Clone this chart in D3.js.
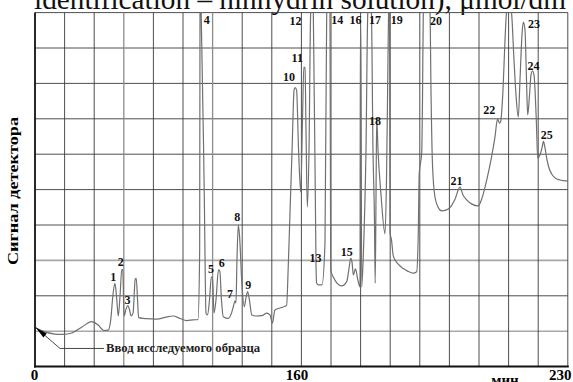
<!DOCTYPE html>
<html>
<head>
<meta charset="utf-8">
<script src="https://cdn.jsdelivr.net/npm/d3@7"></script>
<style>
  html, body { margin: 0; padding: 0; background: #fff; }
  svg { display: block; }
  text { font-family: "Liberation Serif", "Times New Roman", serif; }
</style>
</head>
<body>
<svg id="chart" width="573" height="382"></svg>
<script>
// Chromatogram: retention time (min) vs detector signal (relative units)
const xTicks = [0, 160, 230];
const xBreaks = [0, 160, 230];

const timeMin = [
  0, 6.0, 12.0, 16.8, 22.2, 28.2, 34.1, 37.8, 41.4, 44.0,
  45.6, 46.8, 48.0, 48.9, 50.0, 51.1, 52.1, 52.7, 53.5, 54.7,
  55.7, 56.8, 57.7, 58.9, 60.2, 60.8, 61.6, 62.2, 64.9, 69.1,
  73.3, 78.1, 82.9, 87.1, 91.1, 94.9, 97.9, 98.9, 99.1, 99.5,
  99.8, 101.7, 102.7, 103.6, 104.8, 105.9, 106.6, 107.5, 108.7, 110.2,
  111.0, 112.0, 113.1, 116.1, 118.0, 119.1, 120.1, 120.7, 121.3, 122.1,
  122.8, 124.3, 125.7, 126.7, 127.7, 128.8, 130.2, 132.7, 136.2, 139.2,
  141.1, 142.6, 144.1, 148.2, 151.1, 152.1, 153.2, 154.4, 155.6, 156.2,
  157.1, 158.3, 159.6,
  160.29, 160.63, 160.95, 161.21, 161.55, 162.00, 162.44, 162.79, 163.13, 163.84,
  163.97, 164.44, 165.41, 166.20, 166.65, 167.07, 167.51, 167.70, 168.38, 169.35,
  170.59, 171.90, 172.64, 172.95, 173.30, 173.64, 174.22, 174.74, 175.40, 175.50,
  175.63, 175.84, 176.32, 176.97, 177.45, 177.92, 178.39, 178.81, 179.21, 179.39,
  179.60, 179.79, 180.13, 180.92, 181.97, 182.36, 182.75, 182.91, 183.04, 183.17,
  183.28, 183.67, 184.15, 185.38, 186.78, 188.01, 189.40, 190.29, 190.71, 190.97,
  191.61, 191.82, 192.03, 192.87, 193.79, 194.05, 194.45, 195.10, 195.89, 196.86,
  197.99, 199.04, 200.36, 201.67, 202.46, 203.43, 204.83, 206.48, 207.46, 208.69,
  209.82, 210.87, 211.53, 212.05, 212.32, 212.97, 213.50, 213.89, 214.55, 215.21,
  215.86, 216.39, 216.99, 217.44, 217.96, 218.31, 218.75, 219.15, 219.46, 219.94,
  220.33, 220.72, 221.12, 221.51, 221.77, 222.09, 222.69, 223.22, 223.61, 224.01,
  224.45, 225.06, 225.77, 226.64, 227.95, 230.0
];

const signal = [
  1.10, 0.98, 0.92, 0.91, 0.95, 1.12, 1.27, 1.18, 1.02, 1.03,
  1.37, 2.02, 2.35, 2.02, 1.43, 2.02, 2.74, 2.74, 1.43, 1.63,
  1.72, 1.60, 1.43, 1.51, 2.47, 2.49, 1.88, 1.39, 1.36, 1.35,
  1.34, 1.39, 1.43, 1.36, 1.30, 1.32, 1.33, 3.29, 10.0, 10.3,
  10.0, 4.71, 1.51, 1.46, 1.88, 2.53, 2.53, 1.51, 1.88, 2.73,
  2.70, 1.88, 1.41, 1.36, 1.51, 1.69, 1.85, 1.80, 3.01, 4.00,
  3.72, 2.31, 1.69, 1.94, 2.12, 1.88, 1.46, 1.43, 1.44, 1.51,
  1.46, 1.23, 1.60, 1.67, 1.73, 2.82, 4.42, 6.12, 7.81, 7.88,
  7.81, 6.12, 4.93,
  6.97, 8.46, 8.44, 6.68, 4.51, 6.12, 10.0, 10.3, 10.0, 2.87,
  2.36, 2.31, 2.31, 3.49, 10.0, 10.3, 10.0, 2.73, 2.53, 2.36,
  2.28, 2.40, 2.87, 3.06, 2.95, 2.59, 2.76, 2.50, 2.25, 9.65,
  9.65, 2.25, 3.29, 6.12, 10.0, 10.3, 10.0, 6.12, 4.08, 2.36,
  4.71, 7.02, 6.12, 4.85, 3.75, 5.27, 8.66, 10.0, 10.3, 10.0,
  3.80, 3.58, 3.12, 2.90, 2.77, 2.69, 2.64, 2.68, 3.77, 5.47,
  6.03, 7.53, 10.0, 10.3, 10.0, 7.81, 5.69, 4.79, 4.51, 4.40,
  4.42, 4.49, 4.73, 5.07, 4.85, 4.71, 4.59, 4.54, 4.76, 5.27,
  5.84, 6.49, 6.99, 6.88, 6.91, 7.81, 9.23, 10.0, 10.3, 10.0,
  8.66, 7.67, 7.05, 8.10, 9.37, 9.73, 9.51, 8.10, 7.11, 7.67,
  8.24, 8.35, 8.24, 7.53, 6.82, 5.89, 5.98, 6.18, 6.36, 6.18,
  5.89, 5.61, 5.44, 5.33, 5.27, 5.24
];

// peak numbers and where each number sits (time, signal level)
const peakNames = ["1","2","3","4","5","6","7","8","9","10","11","12","13",
  "14","15","16","17","18","19","20","21","22","23","24","25"];
const peakLabelTime = [47.0, 51.5, 55.6, 103.1, 105.7, 112.1, 117.1, 121.5, 128.1,
  152.6, 157.5, 156.5, 163.70, 169.43, 171.90, 174.22, 179.34, 179.34, 185.04,
  195.37, 200.75, 209.37, 221.12, 220.99, 224.45];
const peakLabelLevel = [2.54, 2.96, 1.90, 9.79, 2.75, 2.92, 2.07, 4.22, 2.31,
  8.19, 8.71, 9.77, 3.06, 9.79, 3.23, 9.79, 9.79, 6.95, 9.79,
  9.77, 5.24, 7.25, 9.68, 8.50, 6.54];

const injectionText = "Ввод исследуемого образца";
const yTitle = "Сигнал детектора";
const xUnit = "мин";
const topCaption = "identification – ninhydrin solution), μmol/dm";

// ---- layout ----
const plotLeft = 35, plotRight = 567.8, plotTop = 12.6, plotBottom = 366.6;
const yMax = 10, columns = 18;
const serif = "Liberation Serif, Times New Roman, serif";

const svg = d3.select("#chart");
svg.append("rect").attr("width", 573).attr("height", 382).attr("fill", "#fff");

const x = d3.scaleLinear().domain(xBreaks).range([plotLeft, (plotLeft + plotRight) / 2, plotRight]);
const y = d3.scaleLinear().domain([0, yMax]).range([plotBottom, plotTop]);
const col = d3.scaleLinear().domain([0, columns]).range([plotLeft, plotRight]);

// caption line running above the chart
svg.append("text")
  .attr("x", 34).attr("y", 9)
  .attr("font-family", serif)
  .attr("font-size", 30)
  .attr("textLength", 532).attr("lengthAdjust", "spacingAndGlyphs")
  .attr("fill", "#111")
  .text(topCaption);

// grid
const lightRows = new Set([1, 3]);
const lightCols = new Set([3, 6]);
const grid = svg.append("g");
grid.selectAll("line.h").data(d3.range(1, yMax + 1)).join("line")
  .attr("x1", plotLeft).attr("x2", plotRight)
  .attr("y1", d => y(d)).attr("y2", d => y(d))
  .attr("stroke", d => lightRows.has(d) ? "#a8a8a8" : "#3a3a3a")
  .attr("stroke-width", d => lightRows.has(d) ? 1.6 : 0.9);
grid.selectAll("line.v").data(d3.range(1, columns + 1)).join("line")
  .attr("y1", plotTop).attr("y2", plotBottom)
  .attr("x1", d => col(d)).attr("x2", d => col(d))
  .attr("stroke", d => lightCols.has(d) ? "#8c8c8c" : "#3a3a3a")
  .attr("stroke-width", d => lightCols.has(d) ? 1.3 : 0.9);

// signal trace
svg.append("clipPath").attr("id", "plotClip")
  .append("rect").attr("x", plotLeft).attr("y", plotTop)
  .attr("width", plotRight - plotLeft).attr("height", plotBottom - plotTop);

const pts = timeMin.map((t, i) => [t, signal[i]]);
svg.append("path")
  .datum(pts)
  .attr("clip-path", "url(#plotClip)")
  .attr("fill", "none")
  .attr("stroke", "#707070")
  .attr("stroke-width", 1.2)
  .attr("stroke-linejoin", "round")
  .attr("d", d3.line().x(d => x(d[0])).y(d => y(d[1])).curve(d3.curveMonotoneX));

// axes frame
svg.append("line").attr("x1", plotLeft).attr("x2", plotLeft).attr("y1", plotTop).attr("y2", plotBottom + 1)
  .attr("stroke", "#111").attr("stroke-width", 1.8);
svg.append("line").attr("x1", plotLeft - 1).attr("x2", plotRight + 1).attr("y1", plotBottom).attr("y2", plotBottom)
  .attr("stroke", "#111").attr("stroke-width", 2);

// x tick labels
const tickNudge = { 0: -1, 160: -5, 230: -8 };
const xAxis = d3.axisBottom(x).tickValues(xTicks).tickSize(0).tickPadding(0).tickFormat(d3.format("d"));
const gx = svg.append("g").attr("transform", `translate(0,${plotBottom})`).call(xAxis);
gx.select(".domain").remove();
gx.selectAll("text")
  .attr("y", 13).attr("dy", 0)
  .attr("dx", d => tickNudge[d])
  .attr("font-family", serif)
  .attr("font-size", 15).attr("font-weight", "bold").attr("fill", "#000");

svg.append("text")
  .attr("x", 505).attr("y", 384.5)
  .attr("text-anchor", "middle")
  .attr("font-family", serif)
  .attr("font-size", 15).attr("font-weight", "bold")
  .text(xUnit);

// y title
svg.append("text")
  .attr("transform", "translate(18,191) rotate(-90)")
  .attr("text-anchor", "middle")
  .attr("font-family", serif)
  .attr("font-size", 14).attr("font-weight", "bold")
  .attr("textLength", 148).attr("lengthAdjust", "spacingAndGlyphs")
  .text(yTitle);

// peak numbers
svg.append("g").selectAll("text").data(peakNames).join("text")
  .attr("x", (d, i) => x(peakLabelTime[i]))
  .attr("y", (d, i) => y(peakLabelLevel[i]))
  .attr("dy", "0.35em")
  .attr("text-anchor", "middle")
  .attr("font-family", serif)
  .attr("font-size", 12).attr("font-weight", "bold")
  .attr("fill", "#111")
  .text(d => d);

// injection marker
const tipX = x(0) + 1, tipY = y(signal[0]);
const elbow = [tipX + 24, tipY + 20.8];
const lineEnd = [tipX + 68, tipY + 20.8];
svg.append("path")
  .attr("d", `M${tipX},${tipY} L${elbow[0]},${elbow[1]} L${lineEnd[0]},${lineEnd[1]}`)
  .attr("fill", "none").attr("stroke", "#333").attr("stroke-width", 0.9);
const ang = Math.atan2(elbow[1] - tipY, elbow[0] - tipX);
const hl = 12, hw = 2.6;
const bx = tipX + hl * Math.cos(ang), by = tipY + hl * Math.sin(ang);
svg.append("path")
  .attr("d", `M${tipX},${tipY} L${bx - hw * Math.sin(ang)},${by + hw * Math.cos(ang)} L${bx + hw * Math.sin(ang)},${by - hw * Math.cos(ang)} Z`)
  .attr("fill", "#000");

svg.append("text")
  .attr("x", lineEnd[0] + 2).attr("y", lineEnd[1] + 4)
  .attr("font-family", serif)
  .attr("font-size", 12).attr("font-weight", "bold")
  .attr("textLength", 154).attr("lengthAdjust", "spacingAndGlyphs")
  .attr("fill", "#222")
  .text(injectionText);
</script>
</body>
</html>
